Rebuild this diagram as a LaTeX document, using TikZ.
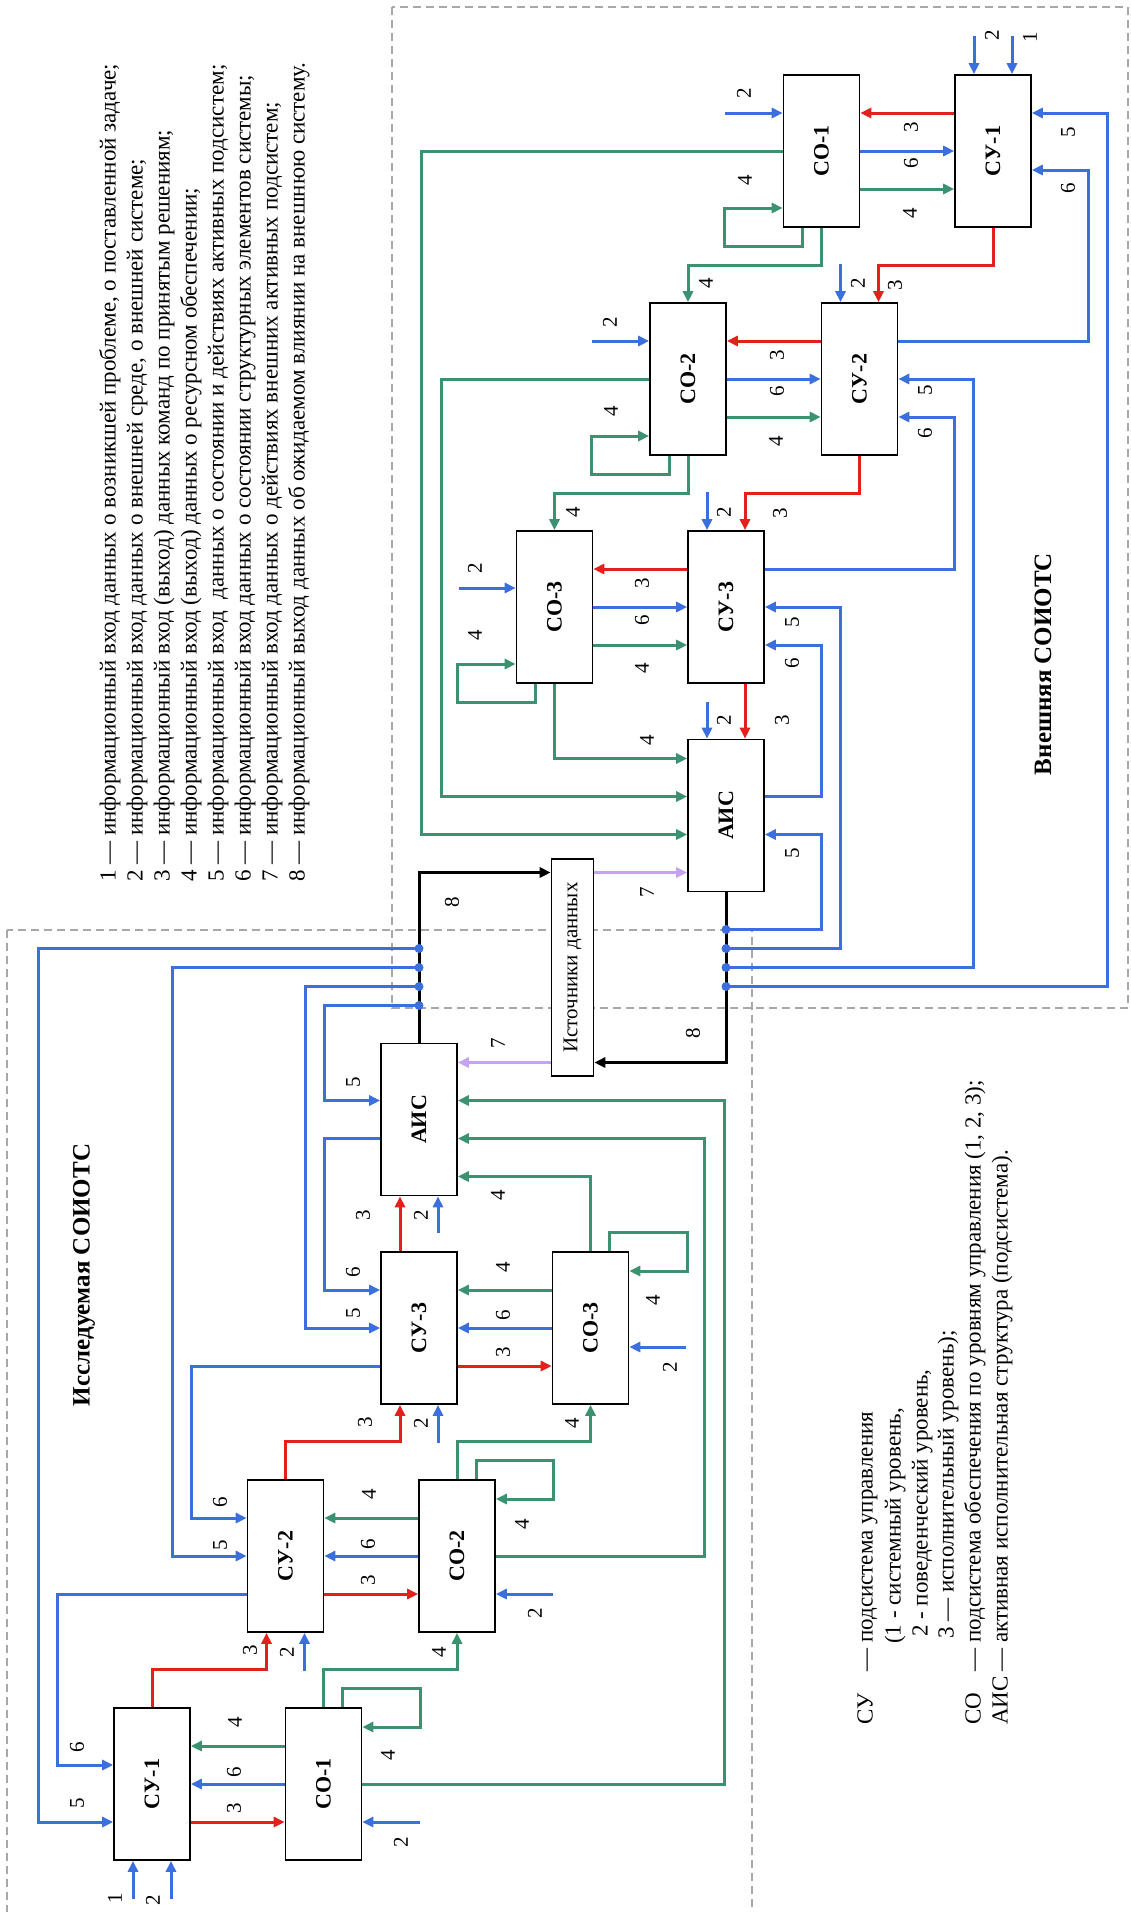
\documentclass[tikz,border=0pt]{standalone}
\usepackage{fontspec}
\setmainfont{Liberation Serif}
\usepackage{graphicx}
\usetikzlibrary{arrows.meta,calc}
\definecolor{cblue}{HTML}{3B6FDE}
\definecolor{cred}{HTML}{E3201B}
\definecolor{cgreen}{HTML}{3A9270}
\definecolor{cpurp}{HTML}{C6A3EE}
\definecolor{cdash}{HTML}{A8A8A8}
\newcommand{\sx}[1]{(572.5+\sg*((#1)-572.5))}
\newcommand{\sy}[1]{(967.5+\sg*((#1)-967.5))}
\def\bw{38.8}
\def\bh{76.8}
\tikzset{
  box/.style={draw=black, line width=1.6pt, fill=white, minimum width=76pt, minimum height=152pt, inner sep=0pt, font=\fontsize{22}{22}\selectfont\bfseries},
  srcbox/.style={draw=black, line width=1.6pt, fill=white, minimum width=42pt, minimum height=217pt, inner sep=0pt, font=\fontsize{21}{21}\selectfont},
  con/.style={line width=3pt, -{Triangle[length=11pt,width=10pt]}},
  bl/.style={con, cblue}, rd/.style={con, cred}, gr/.style={con, cgreen},
  pu/.style={con, cpurp}, bk/.style={con, black},
  lbl/.style={rotate=90, inner sep=0pt, font=\fontsize{21}{21}\selectfont},
  leg/.style={rotate=90, anchor=west, inner sep=0pt, text height=16pt, text depth=5pt, font=\fontsize{23}{27}\selectfont},
  ttl/.style={rotate=90, inner sep=0pt, font=\fontsize{25}{25}\selectfont\bfseries},
  dbox/.style={draw=cdash, line width=1.4pt, dash pattern=on 8pt off 5pt}
}
\begin{document}
\begin{tikzpicture}[x=1pt,y=-1pt]
\useasboundingbox (0,0) rectangle (1131,1912);
\fill[white] (0,0) rectangle (1131,1912);
\draw[dbox] (392,7) rectangle (1128,1008);
\draw[dbox] (7,930) rectangle (752,1930);
\node[srcbox] (src) at (572.5,967.5) {\rotatebox{90}{Источники данных}};
\foreach \pf/\sg/\la/\lb/\lc in {e/1/745/611/475, s/-1/757/623/492}{
  \node[box] (\pf co1) at ({\sx{821.5}},{\sy{151}}) {\rotatebox{90}{СО-1}};
  \node[box] (\pf cy1) at ({\sx{993}},{\sy{151}}) {\rotatebox{90}{СУ-1}};
  \node[box] (\pf co2) at ({\sx{688}},{\sy{379}}) {\rotatebox{90}{СО-2}};
  \node[box] (\pf cy2) at ({\sx{859.5}},{\sy{379}}) {\rotatebox{90}{СУ-2}};
  \node[box] (\pf co3) at ({\sx{554.5}},{\sy{607}}) {\rotatebox{90}{СО-3}};
  \node[box] (\pf cy3) at ({\sx{726}},{\sy{607}}) {\rotatebox{90}{СУ-3}};
  \node[box] (\pf ais) at ({\sx{726}},{\sy{815.5}}) {\rotatebox{90}{АИС}};
  \foreach \k in {1,2,3}{
    \draw[rd] ($(\pf cy\k)+({\sg*(-\bw)},{\sg*(-38)})$) -- ($(\pf co\k)+({\sg*\bw},{\sg*(-38)})$);
    \draw[bl] ($(\pf co\k)+({\sg*\bw},0)$) -- ($(\pf cy\k)+({\sg*(-\bw)},0)$);
    \draw[gr] ($(\pf co\k)+({\sg*\bw},{\sg*38})$) -- ($(\pf cy\k)+({\sg*(-\bw)},{\sg*38})$);
    \draw[gr] ($(\pf co\k)+({\sg*(-19)},{\sg*\bh})$) -- ($(\pf co\k)+({\sg*(-19)},{\sg*(\bh+19)})$)
      -- ($(\pf co\k)+({\sg*(-\bw-58)},{\sg*(\bh+19)})$) -- ($(\pf co\k)+({\sg*(-\bw-58)},{\sg*57})$)
      -- ($(\pf co\k)+({\sg*(-\bw)},{\sg*57})$);
  }
  % inputs 2 into CO
  \draw[bl] ($(\pf co1)+({\sg*(-\bw-58)},{\sg*(-38)})$) -- ($(\pf co1)+({\sg*(-\bw)},{\sg*(-38)})$);
  \draw[bl] ($(\pf co2)+({\sg*(-\bw-57)},{\sg*(-38)})$) -- ($(\pf co2)+({\sg*(-\bw)},{\sg*(-38)})$);
  \draw[bl] ($(\pf co3)+({\sg*(-\bw-57)},{\sg*(-19)})$) -- ($(\pf co3)+({\sg*(-\bw)},{\sg*(-19)})$);
  % green down the CO chain
  \draw[gr] ($(\pf co1)+(0,{\sg*\bh})$) -- ($(\pf co1)+(0,{\sg*(\bh+38)})$) -| ($(\pf co2)+(0,{\sg*(-\bh)})$);
  \draw[gr] ($(\pf co2)+(0,{\sg*\bh})$) -- ($(\pf co2)+(0,{\sg*(\bh+38)})$) -| ($(\pf co3)+(0,{\sg*(-\bh)})$);
  \draw[gr] ($(\pf co3)+(0,{\sg*\bh})$) |- ($(\pf ais)+({\sg*(-\bw)},{\sg*(-57)})$);
  % red down the CY chain
  \draw[rd] ($(\pf cy1)+(0,{\sg*\bh})$) -- ($(\pf cy1)+(0,{\sg*(\bh+38)})$) -| ($(\pf cy2)+({\sg*19},{\sg*(-\bh)})$);
  \draw[rd] ($(\pf cy2)+(0,{\sg*\bh})$) -- ($(\pf cy2)+(0,{\sg*(\bh+38)})$) -| ($(\pf cy3)+({\sg*19},{\sg*(-\bh)})$);
  \draw[rd] ($(\pf cy3)+({\sg*19},{\sg*\bh})$) -- ($(\pf ais)+({\sg*19},{\sg*(-\bh)})$);
  % inputs 2 (and 1) into CY / AIS tops
  \draw[bl] ($(\pf cy1)+({\sg*(-19)},{\sg*(-\bh-38)})$) -- ($(\pf cy1)+({\sg*(-19)},{\sg*(-\bh)})$);
  \draw[bl] ($(\pf cy1)+({\sg*19},{\sg*(-\bh-38)})$) -- ($(\pf cy1)+({\sg*19},{\sg*(-\bh)})$);
  \draw[bl] ($(\pf cy2)+({\sg*(-19)},{\sg*(-\bh-38)})$) -- ($(\pf cy2)+({\sg*(-19)},{\sg*(-\bh)})$);
  \draw[bl] ($(\pf cy3)+({\sg*(-19)},{\sg*(-\bh-38)})$) -- ($(\pf cy3)+({\sg*(-19)},{\sg*(-\bh)})$);
  \draw[bl] ($(\pf ais)+({\sg*(-19)},{\sg*(-\bh-37)})$) -- ($(\pf ais)+({\sg*(-19)},{\sg*(-\bh)})$);
  % green from CO-1, CO-2 to AIS
  \draw[gr] ($(\pf co1)+({\sg*(-\bw)},0)$) -| ({\sx{421}},{\sy{834.5}}) -- ($(\pf ais)+({\sg*(-\bw)},{\sg*19})$);
  \draw[gr] ($(\pf co2)+({\sg*(-\bw)},0)$) -| ({\sx{441}},{\sy{796.5}}) -- ($(\pf ais)+({\sg*(-\bw)},{\sg*(-19)})$);
  % blue feedback 5 and 6
  \draw[bl] ($(\pf ais)+(0,{\sg*171})$) -| ({\sx{1107}},{\sy{113}}) -- ($(\pf cy1)+({\sg*\bw},{\sg*(-38)})$);
  \draw[bl] ($(\pf cy2)+({\sg*\bw},{\sg*(-38)})$) -| ({\sx{1088}},{\sy{170}}) -- ($(\pf cy1)+({\sg*\bw},{\sg*19})$);
  \draw[bl] ($(\pf ais)+(0,{\sg*152})$) -| ({\sx{973}},{\sy{379}}) -- ($(\pf cy2)+({\sg*\bw},0)$);
  \draw[bl] ($(\pf cy3)+({\sg*\bw},{\sg*(-38)})$) -| ({\sx{954}},{\sy{417}}) -- ($(\pf cy2)+({\sg*\bw},{\sg*38})$);
  \draw[bl] ($(\pf ais)+(0,{\sg*133})$) -| ({\sx{840}},{\sy{607}}) -- ($(\pf cy3)+({\sg*\bw},0)$);
  \draw[bl] ($(\pf ais)+({\sg*\bw},{\sg*(-19)})$) -| ({\sx{821}},{\sy{645}}) -- ($(\pf cy3)+({\sg*\bw},{\sg*38})$);
  \draw[bl] ($(\pf ais)+(0,{\sg*114})$) -| ({\sx{821}},{\sy{834.5}}) -- ($(\pf ais)+({\sg*\bw},{\sg*19})$);
  % output 8 and input 7
  \draw[bk] ($(\pf ais)+(0,{\sg*\bh})$) |- ($(src)+({\sg*21.8},{\sg*95})$);
  \draw[pu] ($(src)+({\sg*21.8},{\sg*(-95)})$) -- ($(\pf ais)+({\sg*(-\bw)},{\sg*57})$);
  \foreach \d in {114,133,152,171}{
    \fill[cblue] ($(\pf ais)+(0,{\sg*\d})$) circle (4.5);
  }
  % labels
  \foreach \lx/\ly/\lt in {911/127/3, 911/163/6, 910/213/4, 744/93/2, \la/180/4, 706/283/4,
      895/285/3, 858/283/2, 992/35/2, 1030/37/1, 1068/132/5, 1068/188/6,
      777/355/3, 777/391/6, 776/441/4, 610/322/2, \lb/411/4, 573/512/4, 780/513/3, 724/512/2,
      925/390/5, 925/433/6,
      642/583/3, 642/620/6, 642/668/4, 475/568/2, \lc/635/4, 647/740/4, 782/720/3, 724/720/2,
      792/622/5, 792/663/6, 792/853/5, 647/892/7, 693/1033/8}{
    \node[lbl] at ({\sx{\lx}},{\sy{\ly}}) {\lt};
  }
}
% titles
\node[ttl] (t1) at (1043,664) {Внешняя СОИОТС};
\node[ttl] (t2) at (84,1275) {Исследуемая СОИОТС};
% legend of inputs
\node[leg] (l1) at (110,882) {1 — информационный вход данных о возникшей проблеме, о поставленной задаче;};
\node[leg] (l2) at (137,882) {2 — информационный вход данных о внешней среде, о внешней системе;};
\node[leg] (l3) at (164,882) {3 — информационный вход (выход) данных команд по принятым решениям;};
\node[leg] (l4) at (191,882) {4 — информационный вход (выход) данных о ресурсном обеспечении;};
\node[leg] (l5) at (218,882) {5 — информационный вход\ \ данных о состоянии и действиях активных подсистем;};
\node[leg] (l6) at (245,882) {6 — информационный вход данных о состоянии структурных элементов системы;};
\node[leg] (l7) at (272,882) {7 — информационный вход данных о действиях внешних активных подсистем;};
\node[leg] (l8) at (299,882) {8 — информационный выход данных об ожидаемом влиянии на внешнюю систему.};
% legend of abbreviations
\node[leg] (a1) at (867,1725) {СУ};
\node[leg] (a1d) at (867,1672) {—};
\node[leg] (a1t) at (867,1643) {подсистема управления};
\node[leg] (a2t) at (895,1644) {(1 - системный уровень,};
\node[leg] (a3t) at (922,1637) {2 - поведенческий уровень,};
\node[leg] (a4t) at (948,1639) {3 — исполнительный уровень);};
\node[leg] (a5) at (975,1725) {СО};
\node[leg] (a5d) at (975,1672) {—};
\node[leg] (a5t) at (975,1643) {подсистема обеспечения по уровням управления (1, 2, 3);};
\node[leg] (a6) at (1002,1725) {АИС};
\node[leg] (a6d) at (1002,1672) {—};
\node[leg] (a6t) at (1002,1643) {активная исполнительная структура (подсистема).};
\end{tikzpicture}
\end{document}
